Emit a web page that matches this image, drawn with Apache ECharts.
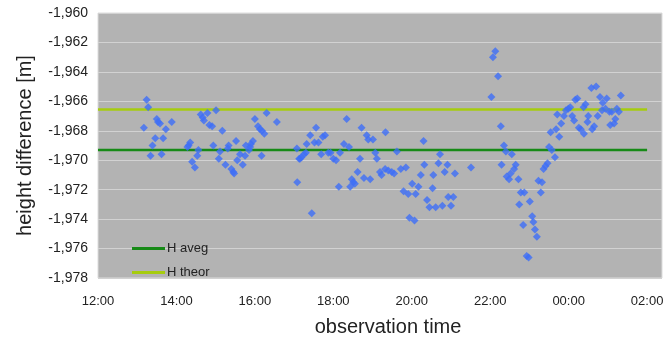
<!DOCTYPE html>
<html>
<head>
<meta charset="utf-8">
<script src="https://cdn.jsdelivr.net/npm/echarts@6/dist/echarts.min.js"></script>
<style>
  html, body { margin: 0; padding: 0; background: #fff; }
  #chart { width: 665px; height: 338px; }
</style>
</head>
<body>
<div id="chart"></div>
<script>
// observation time in hours (24+ = after midnight)
const obsTime = [
  13.17, 13.24, 13.28, 13.34, 13.39, 13.46, 13.50, 13.53, 13.58, 13.62, 13.66, 13.73, 13.88,
  14.28, 14.31, 14.35, 14.40, 14.47, 14.53, 14.56, 14.62, 14.67, 14.70, 14.79, 14.84, 14.91, 14.94,
  15.01, 15.08, 15.11, 15.17, 15.25, 15.31, 15.33, 15.40, 15.45, 15.47, 15.52, 15.55, 15.62, 15.69,
  15.75, 15.77, 15.85, 15.88, 15.90, 15.95, 16.00, 16.08, 16.13, 16.17, 16.18, 16.24, 16.30, 16.56,
  17.07, 17.08, 17.13, 17.15, 17.19, 17.25, 17.30, 17.32, 17.41, 17.45, 17.52, 17.56, 17.62, 17.69,
  17.73, 17.79, 17.87, 17.93, 18.00, 18.07, 18.14, 18.17, 18.27, 18.34, 18.40, 18.43, 18.47, 18.51,
  18.55, 18.62, 18.68, 18.72, 18.78, 18.85, 18.89, 18.94, 19.01, 19.07, 19.11, 19.19, 19.23, 19.32,
  19.33, 19.40, 19.49, 19.55, 19.62, 19.72, 19.79, 19.85, 19.91, 19.94, 20.01, 20.07, 20.10, 20.17,
  20.23, 20.30, 20.32, 20.39, 20.45, 20.53, 20.55, 20.61, 20.68, 20.72, 20.78, 20.84, 20.91, 20.93,
  21.00, 21.06, 21.10, 21.51,
  22.03, 22.07, 22.13, 22.20, 22.27, 22.29, 22.35, 22.40, 22.42, 22.48, 22.52, 22.55, 22.61, 22.65,
  22.72, 22.74, 22.78, 22.84, 22.87, 22.93, 22.98, 23.01, 23.07, 23.10, 23.14, 23.19, 23.23, 23.29,
  23.32, 23.36, 23.41, 23.46, 23.50, 23.54, 23.57, 23.65, 23.68, 23.71, 23.76, 23.81, 23.88, 23.93,
  23.99, 24.04, 24.09, 24.14, 24.17, 24.22, 24.26, 24.31, 24.38, 24.39, 24.43, 24.48, 24.50, 24.58,
  24.60, 24.65, 24.70, 24.74, 24.80, 24.85, 24.87, 24.94, 24.97, 25.04, 25.06, 25.10, 25.16, 25.19,
  25.23, 25.28, 25.33
];
const heightDiff = [
  -1.9678, -1.9659, -1.9664, -1.9697, -1.9690, -1.9685, -1.9672, -1.9674, -1.9675, -1.9696, -1.9685, -1.9679, -1.9674,
  -1.9691, -1.9690, -1.9688, -1.9701, -1.9705, -1.9697, -1.9693, -1.9669, -1.9671, -1.9673, -1.9668, -1.9676, -1.9677, -1.9690,
  -1.9666, -1.9699, -1.9694, -1.9680, -1.9703, -1.9692, -1.9690, -1.9706, -1.9708, -1.9709, -1.9687, -1.9700, -1.9696, -1.9703,
  -1.9697, -1.9690, -1.9693, -1.9691, -1.9689, -1.9687, -1.9672, -1.9677, -1.9679, -1.9697, -1.9680, -1.9682, -1.9668, -1.9674,
  -1.9692, -1.9715, -1.9699, -1.9699, -1.9698, -1.9696, -1.9695, -1.9689, -1.9683, -1.9736, -1.9688, -1.9678, -1.9688, -1.9696,
  -1.9684, -1.9683, -1.9695, -1.9695, -1.9699, -1.9700, -1.9718, -1.9695, -1.9689, -1.9672, -1.9691, -1.9718, -1.9713, -1.9715,
  -1.9716, -1.9708, -1.9699, -1.9678, -1.9712, -1.9683, -1.9686, -1.9713, -1.9686, -1.9695, -1.9699, -1.9708, -1.9710, -1.9706,
  -1.9681, -1.9707, -1.9708, -1.9709, -1.9694, -1.9706, -1.9721, -1.9705, -1.9723, -1.9739, -1.9716, -1.9741, -1.9723, -1.9718,
  -1.9710, -1.9687, -1.9703, -1.9727, -1.9732, -1.9719, -1.9710, -1.9732, -1.9702, -1.9696, -1.9731, -1.9708, -1.9703, -1.9725,
  -1.9731, -1.9725, -1.9709, -1.9705,
  -1.9657, -1.9630, -1.9626, -1.9643, -1.9677, -1.9703, -1.9690, -1.9694, -1.9711, -1.9713, -1.9709, -1.9696, -1.9706, -1.9703,
  -1.9713, -1.9730, -1.9722, -1.9744, -1.9722, -1.9765, -1.9766, -1.9728, -1.9738, -1.9742, -1.9747, -1.9752, -1.9714, -1.9722,
  -1.9715, -1.9706, -1.9704, -1.9702, -1.9691, -1.9681, -1.9693, -1.9698, -1.9679, -1.9669, -1.9684, -1.9675, -1.9670, -1.9666,
  -1.9665, -1.9664, -1.9670, -1.9673, -1.9659, -1.9658, -1.9678, -1.9679, -1.9664, -1.9682, -1.9662, -1.9674, -1.9670, -1.9651,
  -1.9679, -1.9677, -1.9650, -1.9670, -1.9657, -1.9666, -1.9661, -1.9665, -1.9658, -1.9667, -1.9676, -1.9667, -1.9675, -1.9672,
  -1.9665, -1.9667, -1.9656
];
const lineSpan = [12, 26];
const hAveg = -1.9693;
const hTheor = -1.96655;
const yTicks = { min: -1.978, max: -1.960, step: 0.002 };
const xTicks = { min: 12, max: 26.38, step: 2 };

const FONT = 'Liberation Sans, Arial, sans-serif';
const chart = echarts.init(document.getElementById('chart'));
const hh = (v) => String(Math.round(v) % 24).padStart(2, '0') + ':00';

chart.setOption({
  animation: false,
  textStyle: { fontFamily: FONT },
  grid: {
    left: 98, right: 3, top: 13, bottom: 60, outerBoundsMode: 'none',
    show: true, backgroundColor: '#b3b3b3', borderColor: '#dcdcdc', borderWidth: 1,
  },
  legend: {
    data: ['H aveg', 'H theor'],
    orient: 'vertical', left: 127, top: 237, icon: 'rect',
    itemWidth: 33, itemHeight: 3, itemGap: 11,
    textStyle: { fontFamily: FONT, fontSize: 13, color: '#222', padding: [0, 0, 0, -3] },
  },
  xAxis: {
    type: 'value', min: xTicks.min, max: xTicks.max, interval: xTicks.step,
    name: 'observation time', nameLocation: 'middle', nameGap: 39,
    nameTextStyle: { fontFamily: FONT, fontSize: 20, color: '#222', padding: [0, 0, 0, 16] },
    axisLine: { show: false }, axisTick: { show: false }, splitLine: { show: false },
    axisLabel: { formatter: hh, showMaxLabel: false, margin: 17, fontSize: 13, color: '#222', fontFamily: FONT },
  },
  yAxis: {
    type: 'value', min: yTicks.min, max: yTicks.max, interval: yTicks.step,
    name: 'height difference [m]', nameLocation: 'middle', nameGap: 63,
    nameTextStyle: { fontFamily: FONT, fontSize: 20, color: '#222' },
    axisLine: { show: false }, axisTick: { show: false },
    splitLine: { lineStyle: { color: '#d2d2d2', width: 1 } },
    axisLabel: { formatter: (v) => v.toFixed(3).replace('.', ','), margin: 10, fontSize: 14, color: '#222', fontFamily: FONT },
  },
  series: [
    {
      name: 'H aveg', type: 'line', symbol: 'none', z: 2,
      data: lineSpan.map((x) => [x, hAveg]),
      lineStyle: { color: '#178a17', width: 2.5 }, itemStyle: { color: '#178a17' },
    },
    {
      name: 'H theor', type: 'line', symbol: 'none', z: 2,
      data: lineSpan.map((x) => [x, hTheor]),
      lineStyle: { color: '#a6cc0e', width: 2.5 }, itemStyle: { color: '#a6cc0e' },
    },
    {
      name: 'obs', type: 'scatter', symbol: 'diamond', symbolSize: 8, z: 3,
      data: obsTime.map((t, i) => [t, heightDiff[i]]),
      itemStyle: { color: '#3d6ef7' },
    },
  ],
});
</script>
</body>
</html>
